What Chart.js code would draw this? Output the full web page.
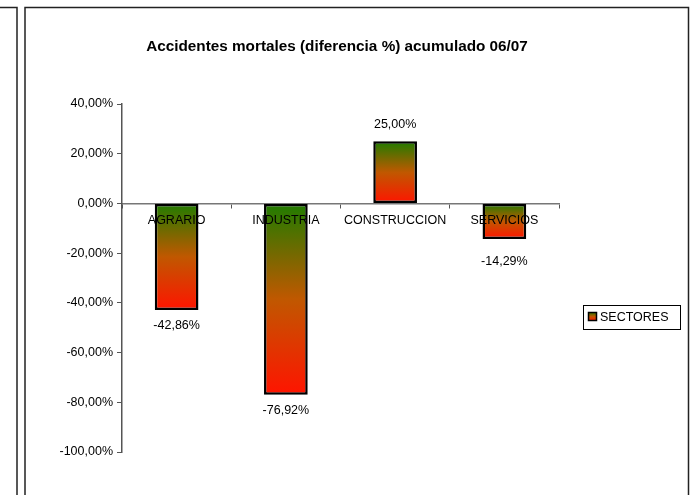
<!DOCTYPE html>
<html>
<head>
<meta charset="utf-8">
<script src="https://cdn.jsdelivr.net/npm/chart.js@4.4.0/dist/chart.umd.min.js"></script>
<style>
  html, body { margin: 0; padding: 0; background: #fff; }
  #wrap { position: relative; width: 691px; height: 495px; }
</style>
</head>
<body>
<div id="wrap"><canvas id="chart" width="691" height="495"></canvas></div>
<script>
// chart data
const sectores = ['AGRARIO', 'INDUSTRIA', 'CONSTRUCCION', 'SERVICIOS'];
const diferencia = [-42.86, -76.92, 25.00, -14.29];
const chartTitle = 'Accidentes mortales (diferencia %) acumulado 06/07';
const seriesName = 'SECTORES';

const FONT = 'Arial, "Liberation Sans", sans-serif';
const TXT = 12.5;

function pct(v) {
    return v.toFixed(2).replace('.', ',') + '%';
}

function barGradient(ctx, top, bottom) {
    const g = ctx.createLinearGradient(0, top, 0, bottom);
    g.addColorStop(0, '#1f7c00');
    g.addColorStop(0.5, '#c05800');
    g.addColorStop(1, '#ff1400');
    return g;
}

// frames, title, value labels and the legend box
const decorations = {
    id: 'decorations',
    beforeDraw(chart) {
        const ctx = chart.ctx;
        ctx.save();
        ctx.fillStyle = '#fff';
        ctx.fillRect(0, 0, chart.width, chart.height);
        ctx.strokeStyle = '#222';
        ctx.lineWidth = 1.5;
        // edge of the neighbouring chart
        ctx.beginPath();
        ctx.moveTo(0, 7.5);
        ctx.lineTo(17, 7.5);
        ctx.lineTo(17, 495);
        ctx.stroke();
        // this chart's frame
        ctx.beginPath();
        ctx.moveTo(25, 496);
        ctx.lineTo(25, 7.5);
        ctx.lineTo(688.5, 7.5);
        ctx.lineTo(688.5, 496);
        ctx.stroke();
        ctx.restore();
    },
    afterDraw(chart) {
        const ctx = chart.ctx;
        const meta = chart.getDatasetMeta(0);
        const zero = chart.scales.y.getPixelForValue(0);
        ctx.save();
        // title
        ctx.fillStyle = '#000';
        ctx.font = 'bold 15.3px ' + FONT;
        ctx.textAlign = 'center';
        ctx.textBaseline = 'alphabetic';
        ctx.fillText(chartTitle, 337, 51);
        // value labels (negative ones kept clear of the category names)
        ctx.font = TXT + 'px ' + FONT;
        ctx.textBaseline = 'middle';
        meta.data.forEach((bar, i) => {
            const v = diferencia[i];
            const y = v >= 0 ? bar.y - 17 : Math.max(bar.y + 16, zero + 58);
            ctx.fillText(pct(v), bar.x, y);
        });
        // legend
        ctx.strokeStyle = '#000';
        ctx.lineWidth = 1;
        ctx.strokeRect(583.5, 305.5, 97, 24);
        ctx.fillStyle = barGradient(ctx, 312, 321);
        ctx.fillRect(588, 312, 9, 9);
        ctx.lineWidth = 1.5;
        ctx.strokeRect(588.5, 312.5, 8, 8);
        ctx.fillStyle = '#000';
        ctx.textAlign = 'left';
        ctx.fillText(seriesName, 600, 318);
        ctx.restore();
    }
};

new Chart(document.getElementById('chart'), {
    type: 'bar',
    data: {
        labels: sectores,
        datasets: [{
            label: seriesName,
            data: diferencia,
            backgroundColor: (c) => {
                const chart = c.chart;
                if (!chart.chartArea || c.dataIndex === undefined) return '#c05800';
                const y = chart.scales.y;
                const a = y.getPixelForValue(0);
                const b = y.getPixelForValue(diferencia[c.dataIndex]);
                return barGradient(chart.ctx, Math.min(a, b), Math.max(a, b));
            },
            borderColor: '#000',
            borderWidth: 2.5,
            borderSkipped: false,
            barPercentage: 0.4,
            categoryPercentage: 1
        }]
    },
    options: {
        responsive: false,
        animation: false,
        events: [],
        layout: { padding: { left: 30, right: 132, top: 104, bottom: 43 } },
        plugins: {
            legend: { display: false },
            title: { display: false },
            tooltip: { enabled: false }
        },
        scales: {
            x: {
                position: { y: 0 },
                offset: true,
                grid: {
                    offset: true,
                    drawOnChartArea: false,
                    drawTicks: true,
                    tickLength: 4,
                    color: '#555'
                },
                border: { color: '#777', width: 1.5 },
                ticks: {
                    z: 1,   // category names sit on top of the bars
                    color: '#000',
                    font: { size: TXT, family: FONT },
                    padding: 6,
                    maxRotation: 0,
                    autoSkip: false
                }
            },
            y: {
                min: -100,
                max: 40,
                afterFit: (s) => { s.width = 92; },
                grid: {
                    drawOnChartArea: false,
                    tickLength: 5,
                    color: '#555'
                },
                border: { color: '#555', width: 1.5 },
                ticks: {
                    stepSize: 20,
                    color: '#000',
                    padding: 4,
                    font: { size: TXT, family: FONT },
                    callback: (v) => pct(v)
                }
            }
        }
    },
    plugins: [decorations]
});
</script>
</body>
</html>
